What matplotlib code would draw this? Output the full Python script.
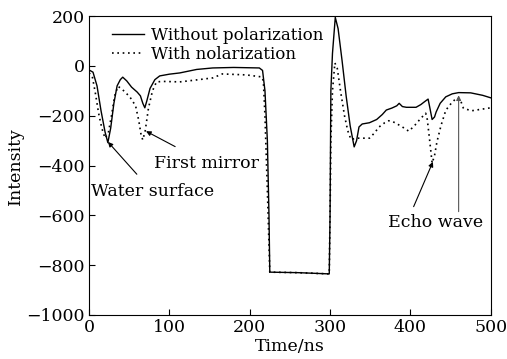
import numpy as np
import matplotlib
matplotlib.use("Agg")
import matplotlib.pyplot as plt

# values
t_without = [0, 5, 10, 15, 20, 23.5, 27, 31, 35, 39, 42, 47, 53, 60, 64, 67, 69.5, 72, 76, 82,
             88, 100, 113, 134, 154, 180, 212, 216, 219, 222, 224, 225, 260, 299, 300, 301, 303,
             306.5, 310, 315, 320, 325, 330, 333, 336, 340, 349, 358, 365, 370, 377, 383, 386,
             390, 395, 407, 413, 417, 422, 424, 427, 430, 432, 437, 444, 452, 460, 475, 490, 500]
i_without = [-16, -25, -80, -180, -265, -308, -250, -150, -80, -55, -45, -60, -85, -105, -120,
             -150, -168, -140, -90, -55, -40, -33, -28, -14, -8, -6, -8, -18, -100, -300, -600,
             -828, -830, -835, -600, -100, 50, 195, 150, 20, -120, -240, -325, -300, -245, -233,
             -228, -215, -195, -177, -169, -160, -150, -163, -166, -166, -155, -145, -133, -165,
             -215, -205, -185, -150, -124, -112, -107, -108, -118, -128]

t_with = [0, 4, 8, 12, 16, 20, 24, 28, 32, 36, 40, 45, 51, 58, 62, 65, 67, 70, 74, 79, 84, 92,
          113, 134, 154, 166, 196, 215, 217, 219, 222, 225, 260, 299, 300, 301, 303, 306, 309,
          313, 318, 322, 326, 333, 349, 355, 361, 368, 373, 377, 382, 390, 398, 405, 413, 419,
          421, 424, 427, 430, 433, 438, 444, 452, 458, 462, 466, 476, 500]
i_with = [-28, -40, -110, -190, -250, -290, -270, -200, -120, -82, -90, -105, -125, -160, -220,
          -280, -297, -260, -170, -100, -64, -62, -64, -56, -48, -32, -36, -44, -60, -200, -500,
          -828, -830, -835, -600, -300, -100, 12, -10, -100, -200, -260, -295, -290, -290, -270,
          -245, -228, -220, -222, -230, -245, -262, -240, -210, -190, -215, -300, -390, -360,
          -305, -240, -178, -145, -128, -135, -170, -180, -168]

labels = ["Without polarization", "With nolarization"]

plt.rcParams['font.family'] = ['DejaVu Serif']

fs = 12.5
fig = plt.figure(figsize=(5.07, 3.59), dpi=100)
ax = fig.add_axes([0.1755, 0.1226, 0.7925, 0.8324])

ax.plot(t_without, i_without, color='black', lw=1.0, label=labels[0])
ax.plot(t_with, i_with, color='black', lw=1.2, ls=(0, (1, 2.2)), label=labels[1])

ax.set_xlim(0, 500)
ax.set_ylim(-1000, 200)
ax.set_xticks([0, 100, 200, 300, 400, 500])
ax.set_yticks([200, 0, -200, -400, -600, -800, -1000])
ax.tick_params(direction='in', length=4, labelsize=fs, top=False, right=False, pad=3)
ax.set_xlabel("Time/ns", fontsize=fs, labelpad=1)
ax.set_ylabel("Intensity", fontsize=fs, labelpad=2)

ap = dict(arrowstyle='-|>', color='black', lw=0.8, mutation_scale=7)
ax.annotate("Water surface", xy=(23.6, -305), xytext=(79, -505), fontsize=fs,
            ha='center', va='center', arrowprops=dict(ap, shrinkB=0, shrinkA=6))
ax.annotate("First mirror", xy=(71, -262), xytext=(146, -390), fontsize=fs,
            ha='center', va='center', arrowprops=dict(ap, shrinkB=0, shrinkA=8))
ax.text(431, -630, "Echo wave", fontsize=fs, ha='center', va='center')
ax.annotate("", xy=(428, -385), xytext=(404, -565), arrowprops=dict(ap, shrinkA=0, shrinkB=0))
ax.annotate("", xy=(460, -118), xytext=(460, -585),
            arrowprops=dict(ap, color='#555555', shrinkA=0, shrinkB=0))

ax.legend(loc='upper left', frameon=False, fontsize=12, handlelength=1.9,
          handletextpad=0.45, labelspacing=0.1, borderaxespad=0.25, bbox_to_anchor=(0.03, 1.0))

fig.savefig("out.png", dpi=100)
